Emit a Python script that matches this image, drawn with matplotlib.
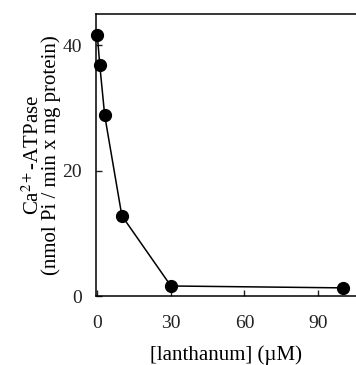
import numpy as np
import matplotlib
matplotlib.use('Agg')
import matplotlib.pyplot as plt

# lanthanum concentration (uM) vs Ca-ATPase activity
conc = [0, 1, 3, 10, 30, 100]
activity = [41.6, 36.8, 28.8, 12.8, 1.6, 1.3]

xticks = [0, 30, 60, 90]
yticks = [0, 20, 40]

plt.rcParams['font.family'] = ['Liberation Serif', 'DejaVu Serif']
plt.rcParams['mathtext.fontset'] = 'stix'

fig = plt.figure(figsize=(3.56, 3.65), dpi=100)
ax = fig.add_axes([0.27, 0.189, 0.73, 0.773])

ax.plot(conc, activity, 'k-', lw=1.1, marker='o', ms=8.5, mfc='k', mec='k', clip_on=False, zorder=3)

ax.set_xlim(-0.5, 105.5)
ax.set_ylim(0, 45)
ax.set_xticks(xticks)
ax.set_yticks(yticks)
ax.spines['right'].set_visible(False)
for s in ['left', 'top', 'bottom']:
    ax.spines[s].set_linewidth(1.1)
ax.tick_params(direction='in', length=4, width=1, labelsize=14, colors='#222222')
ax.tick_params(axis='y', pad=10)
ax.tick_params(axis='x', pad=14)

ax.set_xlabel('[lanthanum] (\u00b5M)', fontsize=15, labelpad=9)
ax.set_ylabel('Ca$^{2+}$-ATPase\n(nmol Pi / min x mg protein)', fontsize=15, labelpad=1, linespacing=0.85)

fig.savefig('out.png', dpi=100)
